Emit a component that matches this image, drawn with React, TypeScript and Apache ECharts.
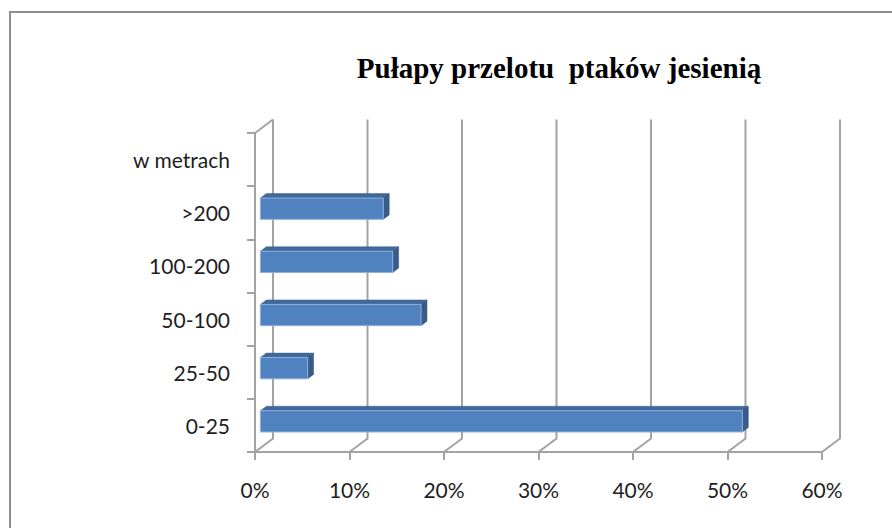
import React, { useEffect, useRef } from "react";
import * as echarts from "echarts";

const title = "Pułapy przelotu  ptaków jesienią";
const categories = ["0-25", "25-50", "50-100", "100-200", ">200", "w metrach"];
const values = [51, 5, 17, 14, 13];
const xTickValues = [0, 10, 20, 30, 40, 50, 60];

// 3D depth offset (pixels) and bar depth fractions
const DX = 18;
const DY = -13.5;
const D1 = 0.3;
const D2 = 0.63;

export default function App() {
  const ref = useRef<HTMLDivElement>(null);
  useEffect(() => {
    if (!ref.current) return;
    const chart = echarts.init(ref.current, undefined, { renderer: "svg" });
    const gridColor = "#a3a3a3";
    const option: any = {
      animation: false,
      backgroundColor: "#ffffff",
      title: {
        text: title,
        left: 554,
        top: 48,
        textAlign: "center",
        textStyle: {
          fontFamily: "Liberation Serif",
          fontWeight: "bold",
          fontSize: 29,
          color: "#000000",
        },
      },
      graphic: [
        {
          type: "rect",
          shape: { x: 10, y: 12, width: 1000, height: 1000 },
          style: { fill: "none", stroke: "#8e8e8e", lineWidth: 2 },
          silent: true,
        },
      ],
      grid: { left: 255, right: 70, top: 133, bottom: 76 },
      xAxis: {
        type: "value",
        min: 0,
        max: 60,
        interval: 10,
        axisLine: { show: true, lineStyle: { color: gridColor, width: 2 } },
        axisTick: { show: true, length: 8, lineStyle: { color: gridColor, width: 2 } },
        splitLine: { show: false },
        axisLabel: {
          formatter: "{value}%",
          margin: 27,
          fontFamily: "Lato",
          fontSize: 21,
          color: "#1e1e1e",
        },
      },
      yAxis: {
        type: "category",
        data: categories,
        axisLine: { show: true, lineStyle: { color: gridColor, width: 2 } },
        axisTick: { show: true, length: 8, alignWithLabel: false, lineStyle: { color: gridColor, width: 2 } },
        splitLine: { show: false },
        axisLabel: {
          margin: 25,
          fontFamily: "Lato",
          fontSize: 21,
          color: "#1e1e1e",
        },
      },
      series: [
        {
          type: "custom",
          z: 1,
          silent: true,
          data: xTickValues.map((v) => [v, 0]),
          renderItem: (params: any, api: any) => {
            const cs = params.coordSys;
            const v = api.value(0);
            const px = api.coord([v, 0])[0];
            const top = cs.y;
            const bottom = cs.y + cs.height;
            const children: any[] = [
              {
                type: "polyline",
                shape: {
                  points: [
                    [px, bottom],
                    [px + DX, bottom + DY],
                    [px + DX, top + DY],
                  ],
                },
                style: { fill: "none", stroke: gridColor, lineWidth: 2 },
              },
            ];
            if (v === 0) {
              children.push({
                type: "line",
                shape: { x1: px, y1: top, x2: px + DX, y2: top + DY },
                style: { stroke: gridColor, lineWidth: 2 },
              });
            }
            return { type: "group", children };
          },
        },
        {
          type: "custom",
          z: 5,
          silent: true,
          data: values.map((v, i) => [v, i]),
          renderItem: (params: any, api: any) => {
            const v = api.value(0);
            const c = api.value(1);
            const p0 = api.coord([0, c]);
            const p1 = api.coord([v, c]);
            const band = api.size([0, 1])[1];
            const h = band * 0.2;
            const fx0 = p0[0] + DX * D1;
            const fx1 = p1[0] + DX * D1;
            const fy = p0[1] + DY * D1;
            const bx0 = p0[0] + DX * D2;
            const bx1 = p1[0] + DX * D2;
            const by = p0[1] + DY * D2;
            return {
              type: "group",
              children: [
                {
                  type: "polygon",
                  shape: { points: [[fx0, fy - h], [fx1, fy - h], [bx1, by - h], [bx0, by - h]] },
                  style: { fill: "#41689a", stroke: "#3b6090", lineWidth: 0.5 },
                },
                {
                  type: "polygon",
                  shape: { points: [[fx1, fy - h], [bx1, by - h], [bx1, by + h], [fx1, fy + h]] },
                  style: { fill: "#385b87", stroke: "#35577f", lineWidth: 0.5 },
                },
                {
                  type: "rect",
                  shape: { x: fx0, y: fy - h, width: fx1 - fx0, height: 2 * h },
                  style: { fill: "#5082c0", stroke: "#8fb0dc", lineWidth: 1 },
                },
              ],
            };
          },
        },
      ],
    };
    chart.setOption(option);
    return () => chart.dispose();
  }, []);
  return (
    <div
      ref={ref}
      style={{ position: "fixed", left: 0, top: 0, width: 892, height: 528, background: "#fff" }}
    />
  );
}
